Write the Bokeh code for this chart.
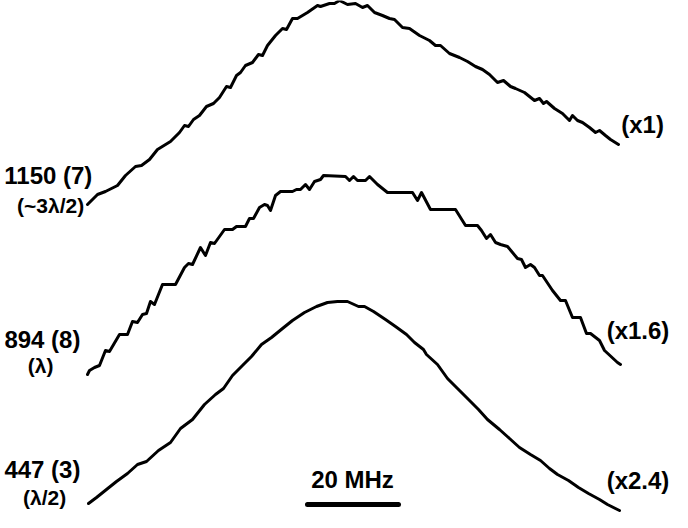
from bokeh.plotting import figure
from bokeh.models import Range1d, ColumnDataSource
from bokeh.core.properties import value
from bokeh.embed import file_html
from bokeh.resources import INLINE

# ---- data: detuning (MHz) and signal (a.u.) for each trace ----
freq_1150 = [-58.79, -56.59, -54.84, -52.20, -50.44, -48.24, -46.92, -45.16, -43.41, -40.55,
             -38.57, -37.47, -36.59, -35.49, -34.18, -32.64, -31.10, -29.78, -28.24, -27.36,
             -26.04, -25.16, -24.07, -22.53, -21.21, -20.33, -19.23, -17.47, -15.93, -15.05,
             -13.74, -12.64, -10.44, -8.24, -7.58, -5.60, -4.51, -3.41, -1.65, 0.11,
             1.65, 2.75, 4.29, 6.04, 7.58, 8.68, 10.44, 11.98, 14.18, 16.37,
             17.69, 18.79, 20.77, 22.97, 24.73, 26.48, 28.02, 29.56, 31.32, 32.64,
             34.18, 35.27, 37.25, 39.45, 40.55, 41.43, 42.09, 43.85, 45.60, 47.14,
             47.80, 48.90, 50.00, 51.54, 52.86, 53.74, 55.05, 56.15, 57.91]
sig_1150 = [8, 18, 21, 27, 37, 46, 47, 53, 63, 71,
            80, 87, 86, 93, 97, 106, 109, 115, 126, 125,
            137, 140, 147, 150, 158, 157, 167, 177, 184, 183,
            194, 194, 200, 207, 206, 209, 209, 212, 208, 209,
            205, 207, 200, 197, 194, 193, 185, 184, 177, 172,
            167, 167, 159, 155, 151, 146, 143, 138, 130, 132,
            126, 124, 120, 112, 114, 109, 111, 104, 99, 92,
            97, 92, 90, 85, 80, 82, 77, 73, 68]

freq_894 = [-58.79, -58.35, -57.25, -56.15, -54.84, -53.96, -51.76, -50.00, -48.90, -47.80,
            -46.70, -45.82, -44.95, -44.07, -42.31, -39.45, -37.47, -36.59, -35.71, -33.96,
            -32.86, -31.76, -30.88, -28.68, -26.92, -26.04, -24.07, -23.19, -22.31, -20.99,
            -19.89, -19.23, -18.57, -17.47, -16.37, -13.74, -12.86, -11.98, -10.88, -10.00,
            -8.90, -7.58, -6.92, -2.09, -1.21, -0.33, 0.55, 2.31, 3.19, 4.95,
            7.14, 12.64, 13.74, 14.62, 16.59, 22.09, 24.29, 26.92, 27.80, 28.90,
            29.78, 30.88, 31.98, 33.52, 35.71, 36.59, 37.47, 38.57, 39.45, 40.55,
            41.21, 43.41, 45.16, 46.26, 47.80, 49.56, 50.88, 51.76, 53.74, 54.84,
            57.69, 58.35]
sig_894 = [8, 12, 15, 17, 32, 31, 48, 48, 61, 60,
           68, 69, 81, 78, 98, 98, 115, 119, 118, 135,
           127, 140, 139, 153, 153, 156, 156, 164, 164, 175,
           178, 177, 172, 187, 191, 191, 193, 193, 198, 193,
           201, 203, 207, 206, 202, 206, 202, 202, 206, 198,
           190, 190, 182, 190, 173, 173, 157, 157, 152, 144,
           148, 140, 138, 136, 124, 123, 115, 118, 115, 107,
           107, 92, 82, 82, 65, 65, 49, 49, 42, 32,
           20, 18]

freq_447 = [-58.57, -56.81, -54.62, -52.42, -50.00, -47.80, -45.82, -43.19, -40.55, -38.35,
            -35.71, -33.08, -30.66, -28.90, -26.92, -24.73, -22.75, -20.55, -18.35, -15.93,
            -13.74, -11.10, -8.46, -6.04, -3.85, -1.65, 0.77, 2.09, 4.07, 6.70,
            8.90, 11.32, 13.08, 15.05, 15.71, 18.13, 20.33, 22.53, 24.95, 27.14,
            29.12, 31.76, 33.96, 36.15, 38.57, 40.77, 42.75, 44.51, 46.92, 49.12,
            51.32, 53.74, 55.49, 58.13]
sig_447 = [9, 15, 23, 31, 39, 48, 51, 62, 70, 84,
           93, 108, 118, 124, 137, 147, 156, 168, 175, 184,
           192, 200, 206, 210, 211, 211, 206, 206, 201, 193,
           186, 178, 170, 163, 158, 148, 134, 124, 113, 103,
           93, 83, 74, 65, 58, 52, 44, 38, 32, 25,
           19, 13, 8, 2]

left_labels = ["1150 (7)", "894 (8)", "447 (3)"]
sub_labels = ["(~3\u03bb/2)", "(\u03bb)", "(\u03bb/2)"]
scale_labels = ["(x1)", "(x1.6)", "(x2.4)"]
scale_bar_mhz = 20
scale_bar_text = "20 MHz"

# ---- layout ----
offsets = [300, 130, 0]
FONT = "Liberation Sans"

p = figure(width=672, height=512, x_range=Range1d(-77.91, 69.78), y_range=Range1d(0, 512),
           output_backend="svg", toolbar_location=None, min_border=0,
           x_axis_location=None, y_axis_location=None)
p.grid.visible = False
p.outline_line_color = None
p.background_fill_color = "white"
p.border_fill_color = "white"

traces = [(freq_1150, sig_1150), (freq_894, sig_894), (freq_447, sig_447)]
for (f, s), off in zip(traces, offsets):
    p.line(f, [v + off for v in s], line_width=3, line_color="black",
           line_join="round", line_cap="round")

def txt(xs, ys, texts, size):
    src = ColumnDataSource(dict(x=xs, y=ys, t=texts))
    p.text(x="x", y="y", text="t", source=src, text_font=value(FONT),
           text_font_size=size, text_font_style="bold", text_color="black",
           text_align="center", text_baseline="alphabetic")

txt([-67.4, -68.7, -68.7], [337, 173, 43], left_labels, "24px")
txt([-66.9, -69.1, -68.2], [307, 147, 15], sub_labels, "21px")
txt([63.2, 62.2, 62.2], [388, 182, 32], scale_labels, "24px")
txt([-0.55], [33], [scale_bar_text], "24px")

bar_x0 = -10.44
p.segment(x0=[bar_x0], y0=[8], x1=[bar_x0 + scale_bar_mhz], y1=[8],
          line_width=5, line_color="black", line_cap="round")

open("out.html", "w").write(file_html(p, INLINE))
